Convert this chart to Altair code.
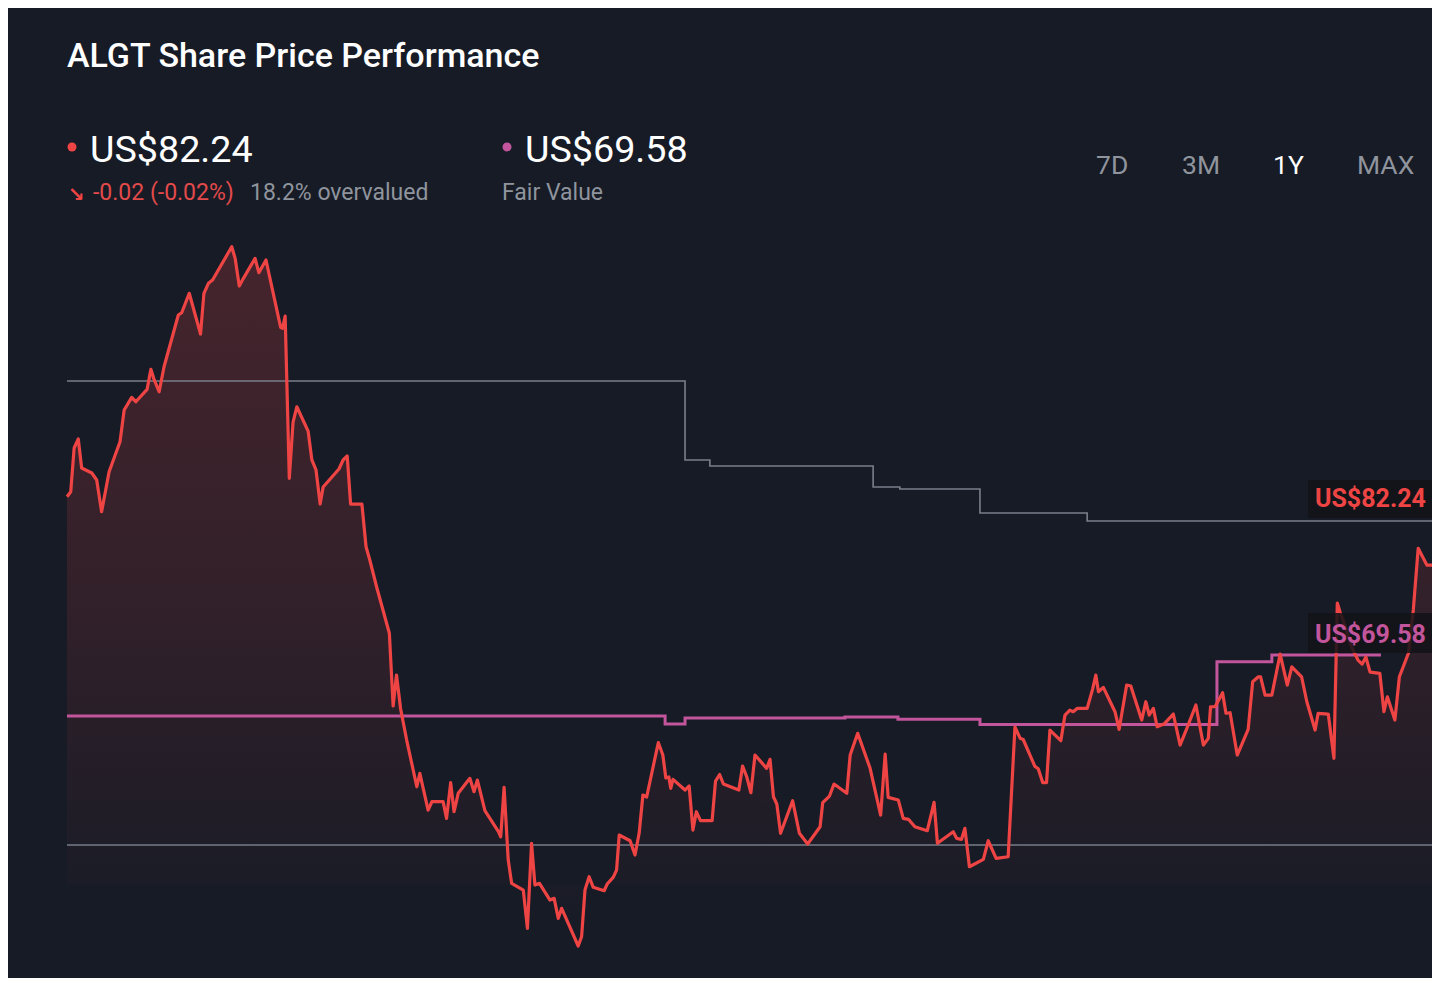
import altair as alt
import pandas as pd

# ---------------- data ----------------
TITLE = "ALGT Share Price Performance"
PRICE_TEXT = "US$82.24"
FV_TEXT = "US$69.58"
CHANGE_TEXT = "-0.02 (-0.02%)"
VALUATION_TEXT = "18.2% overvalued"
FV_SUB = "Fair Value"
RANGES = ["7D", "3M", "1Y", "MAX"]

# days since start of the 1-year window
DAYS = [0.0,1.0,1.9,3.0,3.9,6.6,7.9,9.2,11.2,14.1,
        15.2,17.2,18.3,21.3,22.3,23.2,24.5,25.8,29.6,30.5,
        32.5,35.5,36.4,37.6,38.7,43.8,44.7,45.8,46.9,50.0,
        51.0,52.9,56.8,57.3,58.0,59.1,60.1,61.1,64.1,65.1,
        66.2,67.3,68.1,72.3,73.4,74.5,75.4,78.4,79.5,80.5,
        82.3,85.7,86.7,87.6,88.7,90.3,93.0,93.8,96.0,97.0,
        100.0,100.9,102.0,102.9,104.0,107.1,108.2,109.1,111.1,114.7,
        115.3,116.2,117.3,118.2,121.3,122.4,123.5,124.4,125.6,128.4,
        129.5,130.6,131.5,135.9,136.8,137.7,138.8,139.9,142.8,143.6,
        145.2,146.1,146.8,149.7,151.0,152.1,153.1,154.1,157.2,158.4,
        159.2,160.0,160.5,161.1,164.3,165.4,166.4,167.3,168.4,171.5,
        172.4,173.5,174.5,178.6,179.6,180.7,181.8,182.9,186.0,186.9,
        187.8,188.7,189.7,192.9,194.7,196.9,200.2,200.9,202.7,203.9,
        207.3,208.2,210.2,213.5,215.3,216.3,217.5,218.3,221.0,222.3,
        223.7,225.4,228.7,230.5,231.4,235.6,236.5,237.8,238.7,239.9,
        243.6,244.9,247.0,250.2,252.0,253.4,254.2,257.3,258.2,259.4,
        260.4,261.3,264.2,265.3,266.6,267.5,268.6,271.2,272.7,273.5,
        274.2,275.5,278.6,279.7,281.7,282.8,285.7,286.8,287.7,288.8,
        289.8,291.6,294.1,295.9,297.7,300.1,302.1,303.4,304.0,305.2,
        307.2,308.1,309.2,311.1,314.0,315.2,316.7,317.3,318.5,320.3,
        322.5,324.4,325.6,328.2,329.6,331.8,332.6,335.3,336.8,337.7,
        338.4,339.7,341.6,343.2,344.3,345.3,346.4,349.0,350.1,351.0,
        353.0,354.2,356.6,357.9,359.2,361.5,364.1,365.0]

PRICES = [88.73,89.34,94.63,95.72,92.21,91.60,90.76,86.92,91.76,95.39,
          99.23,100.76,100.23,101.73,104.15,102.86,101.44,104.46,110.72,111.00,
          113.35,108.42,113.35,114.56,114.96,118.98,117.58,114.23,115.16,117.58,
          115.84,117.38,109.23,109.11,110.60,90.96,97.77,99.62,96.68,93.18,
          91.97,87.85,89.91,92.09,93.18,93.66,87.85,87.85,82.68,81.08,
          77.84,72.21,63.41,67.16,63.05,59.29,53.64,55.27,50.82,51.83,
          51.83,49.82,54.13,50.62,52.85,54.66,53.04,54.45,50.74,48.20,
          47.59,53.57,44.77,41.96,41.14,36.51,46.80,41.75,41.96,39.93,
          40.14,37.72,38.93,34.37,35.49,41.14,42.75,41.47,41.06,41.87,
          42.68,43.56,47.80,47.11,45.38,48.01,52.64,52.40,58.99,57.48,
          54.70,54.82,53.45,54.54,53.24,53.73,48.40,50.62,49.55,49.55,
          54.33,55.12,53.97,53.24,56.15,54.85,52.92,57.48,55.87,56.96,
          52.43,51.55,48.01,51.95,48.01,46.71,48.80,51.71,52.52,53.97,
          52.85,57.48,60.11,55.87,52.24,50.22,57.60,52.36,52.03,49.82,
          49.70,48.80,48.32,51.76,46.80,48.20,47.40,47.28,48.61,43.96,
          44.86,47.11,44.98,45.17,60.87,59.50,59.36,56.11,55.82,54.13,
          54.13,60.50,59.21,62.32,62.92,62.72,63.13,63.13,65.55,67.16,
          65.14,65.67,62.72,60.59,65.95,65.83,61.71,63.93,62.32,63.13,
          60.90,61.23,62.44,58.69,60.71,63.53,58.69,59.50,63.32,63.32,
          65.02,62.53,62.60,57.48,60.59,66.35,66.95,66.95,64.74,64.74,
          69.70,65.95,68.16,66.95,63.93,60.50,62.53,62.44,57.08,75.87,
          74.82,73.21,70.43,68.97,68.49,69.34,67.52,67.37,62.72,64.53,
          61.71,66.95,69.79,75.03,82.49,80.47,80.47,82.24]

# analyst target (grey step line)
TARGET_DAYS = [0.0, 164.3, 170.9, 214.3, 221.4, 242.7, 271.2, 365.0]
TARGET_VALUES = [102.73, 93.18, 92.45, 89.91, 89.67, 86.76, 85.79, 85.79]

# fair value (pink step line)
FV_DAYS = [0.0, 159.0, 164.3, 206.8, 220.9, 242.7, 305.7, 320.3, 349.3]
FV_VALUES = [62.20, 61.23, 61.96, 62.08, 61.80, 61.17, 68.77, 69.58, 69.58]

# flat grey reference line
REF_DAYS = [0.0, 365.0]
REF_VALUES = [46.6, 46.6]

AREA_BASE = 41.75

# ---------------- styles ----------------
BG = "#161b26"
RED = "#ef4444"
PINK = "#c2559b"
GREY_LINE = "#7a7f8a"
GREY_TEXT = "#8f949d"
FONT = "Roboto"

W, H = 1424, 970

price_df = pd.DataFrame({"day": DAYS, "price": PRICES})
target_df = pd.DataFrame({"day": TARGET_DAYS, "value": TARGET_VALUES})
fv_df = pd.DataFrame({"day": FV_DAYS, "value": FV_VALUES})
ref_df = pd.DataFrame({"day": REF_DAYS, "value": REF_VALUES})

xscale = alt.Scale(domain=[-15.68, 362.87], nice=False, zero=False)
yscale = alt.Scale(domain=[30.50, 147.87], nice=False, zero=False)
X = lambda f: alt.X(f, type="quantitative", scale=xscale, axis=None)
Y = lambda f: alt.Y(f, type="quantitative", scale=yscale, axis=None)

area = alt.Chart(price_df).mark_area(
    clip=True,
    color=alt.Gradient(
        gradient="linear", x1=0, x2=0, y1=0, y2=1,
        stops=[alt.GradientStop(color="rgba(239,68,68,0.22)", offset=0),
               alt.GradientStop(color="rgba(239,68,68,0.13)", offset=0.5),
               alt.GradientStop(color="rgba(239,68,68,0.0)", offset=1)],
    )
).encode(x=X("day"), y=Y("price"), y2=alt.datum(AREA_BASE))

ref_line = alt.Chart(ref_df).mark_line(color="#5f6470", strokeWidth=2, clip=True).encode(
    x=X("day"), y=Y("value"))

target_line = alt.Chart(target_df).mark_line(
    color=GREY_LINE, strokeWidth=1.6, interpolate="step-after", clip=True).encode(
    x=X("day"), y=Y("value"))

fv_line = alt.Chart(fv_df).mark_line(
    color=PINK, strokeWidth=3, interpolate="step-after", clip=True).encode(
    x=X("day"), y=Y("value"))

price_line = alt.Chart(price_df).mark_line(
    color=RED, strokeWidth=3.2, strokeJoin="round", clip=True).encode(
    x=X("day"), y=Y("price"))

one = alt.Data(values=[{}])


def box(x, x2, y, y2):
    return alt.Chart(one).mark_rect(color="#121318", opacity=0.85).encode(
        x=alt.value(x), x2=alt.value(x2), y=alt.value(y), y2=alt.value(y2))


def txt(text, x, y, size, color, weight="normal", font=FONT):
    return alt.Chart(one).mark_text(
        text=text, align="left", baseline="alphabetic", fontSize=size,
        color=color, fontWeight=weight, font=font
    ).encode(x=alt.value(x), y=alt.value(y))


def dot(x, y, color):
    return alt.Chart(one).mark_point(
        shape="circle", filled=True, size=81, color=color, opacity=1
    ).encode(x=alt.value(x), y=alt.value(y))


layers = [
    area, ref_line, target_line, fv_line, price_line,
    box(1300, 1424, 472, 510),
    box(1300, 1424, 605, 645),
    txt(PRICE_TEXT, 1307, 499, 25, RED, "bold"),
    txt(FV_TEXT, 1307, 635, 25, PINK, "bold"),
    txt(TITLE, 59, 59, 34, "#ffffff", 500),
    dot(64, 139, RED),
    txt(PRICE_TEXT, 82, 154, 37.7, "#ffffff"),
    dot(499, 139, PINK),
    txt(FV_TEXT, 517, 154, 37.7, "#ffffff"),
    txt("↘", 60, 193, 20, RED, "bold", "DejaVu Sans"),
    txt(CHANGE_TEXT, 85, 192, 23, "#e24a4a"),
    txt(VALUATION_TEXT, 242, 192, 23, GREY_TEXT),
    txt(FV_SUB, 494, 192, 23, GREY_TEXT),
]
range_x = [1088, 1174, 1265, 1349]
for label, rx in zip(RANGES, range_x):
    layers.append(txt(label, rx, 166, 26.5, "#ffffff" if label == "1Y" else GREY_TEXT))

chart = alt.layer(*layers).properties(
    width=W, height=H, padding=0,
    autosize=alt.AutoSizeParams(type="none"),
    background=BG,
).configure_view(stroke=None)

chart.save("out.html", embed_options={"renderer": "svg", "actions": False})
